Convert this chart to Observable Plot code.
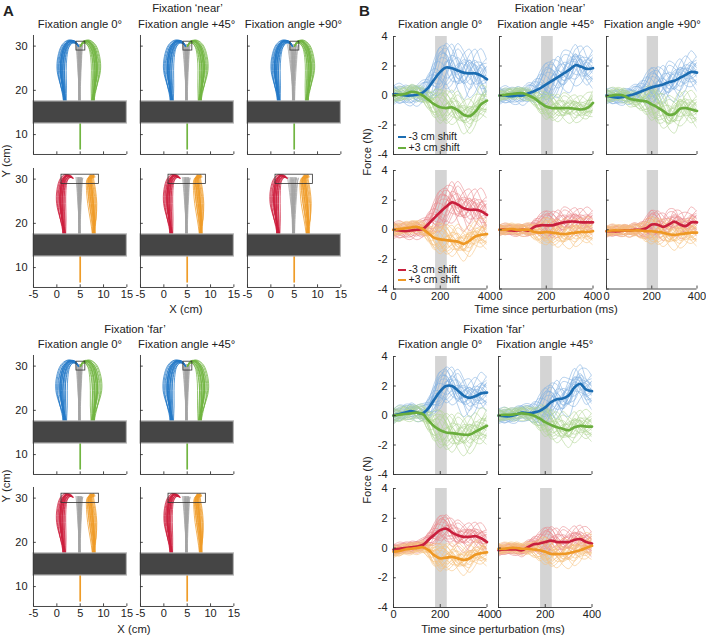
<!DOCTYPE html>
<html><head><meta charset="utf-8">
<script src="https://cdn.jsdelivr.net/npm/d3@7"></script>
<script src="https://cdn.jsdelivr.net/npm/@observablehq/plot@0.6"></script>
<style>
body{margin:0;background:#fff;}
#fig{position:relative;width:706px;height:639px;font-family:"Liberation Sans",Arial,Helvetica,sans-serif;color:#222;overflow:hidden;background:#fff}
.t{position:absolute;font-size:11.3px;white-space:nowrap;transform:translate(-50%,-50%);line-height:1}
.r{transform:translate(-50%,-50%) rotate(-90deg)}
.L{position:absolute;font-size:15px;font-weight:bold;line-height:1}
.p{position:absolute}
.leg{position:absolute;font-size:10.5px;line-height:1;white-space:nowrap}
.leg span.ln{display:inline-block;width:8px;height:2px;vertical-align:middle;margin-right:3px}
</style></head>
<body><div id="fig"></div>
<script>
// ---------------- DATA ----------------
const timeMs = [0,25,50,75,100,125,150,175,200,225,250,275,300,325,350,375,400];
const forceTicks = [-4,-2,0,2,4];
const timeTicks = [0,200,400];
const xCmTicks = [-5,0,5,10,15];
const yCmTicks = [10,20,30];
const perturbBand = [180,230];
const occluder = [-5,15,12.5,17.5];
const startPos = [5,6.5];
const targetSmall = [4.2,6.1,29,31];
const targetWide = [1,9,28.9,31];

// mean force traces (N), sampled at timeMs
const nearMinus0  = [0.1,0.05,0.0,0.0,0.05,0.2,0.55,1.1,1.6,1.9,1.85,1.7,1.55,1.5,1.5,1.35,1.1];
const nearPlus0   = [0.0,0.05,0.1,0.25,0.2,0.0,-0.3,-0.6,-0.8,-0.85,-0.8,-1.0,-1.3,-1.4,-1.1,-0.6,-0.35];
const nearMinus45 = [0.0,0.0,-0.05,0.0,0.0,0.15,0.3,0.5,0.75,1.0,1.25,1.5,1.75,2.05,1.95,1.8,1.85];
const nearPlus45  = [0.0,0.05,0.1,0.15,0.15,0.0,-0.2,-0.5,-0.75,-0.85,-0.85,-0.85,-0.85,-0.9,-0.95,-0.85,-0.5];
const nearMinus90 = [0.0,-0.1,-0.15,-0.1,0.0,0.1,0.25,0.4,0.55,0.65,0.75,0.9,1.0,1.2,1.4,1.6,1.55];
const nearPlus90  = [-0.05,0.0,0.05,0.0,-0.2,-0.3,-0.35,-0.4,-0.6,-0.8,-1.05,-1.3,-1.25,-0.9,-0.85,-0.95,-1.05];
const nearMinusR0  = [0.0,-0.05,-0.1,-0.05,0.0,0.05,0.4,0.8,1.2,1.55,1.85,1.7,1.45,1.35,1.35,1.25,1.0];
const nearPlusR0   = [0.0,0.05,0.1,0.15,0.2,0.05,-0.25,-0.55,-0.65,-0.7,-0.75,-0.8,-0.95,-0.75,-0.45,-0.35,-0.3];
const nearMinusR45 = [0.0,0.0,-0.05,-0.05,0.0,-0.05,0.2,0.3,0.3,0.3,0.4,0.5,0.55,0.55,0.5,0.5,0.5];
const nearPlusR45  = [0.0,0.0,0.05,0.0,0.0,0.0,-0.15,-0.2,-0.15,-0.2,-0.25,-0.3,-0.25,-0.2,-0.15,-0.15,-0.1];
const nearMinusR90 = [-0.1,-0.1,-0.1,-0.05,-0.05,0.0,0.0,0.1,0.35,0.35,0.2,0.35,0.55,0.35,0.25,0.5,0.5];
const nearPlusR90  = [-0.1,-0.05,-0.05,-0.05,-0.05,-0.05,-0.05,-0.1,-0.1,-0.15,-0.2,-0.3,-0.35,-0.3,-0.25,-0.2,-0.2];
const farMinus0  = [0.0,0.1,0.2,0.3,0.2,0.15,0.5,1.1,1.65,2.0,2.0,1.7,1.35,1.2,1.3,1.5,1.55];
const farPlus0   = [0.0,0.05,0.1,0.15,0.2,0.1,-0.35,-0.75,-1.0,-1.15,-1.2,-1.25,-1.3,-1.3,-1.1,-0.9,-0.7];
const farMinus45 = [0.0,-0.05,-0.05,0.05,0.2,0.15,0.2,0.3,0.55,0.9,1.1,1.15,1.35,1.9,2.15,1.75,1.65];
const farPlus45  = [0.0,0.05,0.05,0.1,0.15,0.1,0.0,-0.2,-0.45,-0.65,-0.8,-0.9,-1.0,-0.8,-0.7,-0.75,-0.75];
const farMinusR0  = [-0.1,-0.05,0.0,0.05,0.1,0.2,0.55,0.9,1.2,1.3,1.05,0.85,0.75,0.75,0.8,0.65,0.4];
const farPlusR0   = [-0.25,-0.2,-0.1,-0.05,0.0,0.05,-0.15,-0.5,-0.7,-0.65,-0.6,-0.7,-0.8,-0.7,-0.45,-0.35,-0.3];
const farMinusR45 = [-0.15,-0.1,-0.1,-0.1,-0.15,0.05,0.25,0.3,0.4,0.5,0.4,0.4,0.4,0.55,0.6,0.4,0.3];
const farPlusR45  = [-0.05,-0.05,0.0,0.0,-0.05,-0.05,-0.1,-0.15,-0.25,-0.4,-0.4,-0.4,-0.35,-0.25,-0.15,0.0,0.15];

// single-trial deviations from the mean (read shapes), and their spread over time
const trialDeviations = [
 [0.3,0.5,0.2,-0.3,-0.5,-0.1,0.4,0.9,1.0,0.4,-0.2,-0.5,0.1,0.7,0.9,0.5,0.2],
 [-0.4,-0.6,-0.3,0.2,0.4,0.3,-0.2,-0.7,-0.9,-0.4,0.3,0.8,0.6,0.0,-0.5,-0.7,-0.4],
 [0.6,0.2,-0.4,-0.5,0.0,0.5,0.6,0.2,-0.3,-0.8,-0.6,0.1,0.7,0.9,0.3,-0.3,-0.6],
 [-0.2,0.3,0.6,0.4,-0.1,-0.5,-0.6,-0.1,0.5,0.9,0.7,0.2,-0.4,-0.9,-0.7,0.0,0.5],
 [0.1,-0.3,-0.5,-0.2,0.3,0.6,0.3,-0.3,-0.6,-0.2,0.5,1.0,0.8,0.3,0.0,0.4,0.8],
 [-0.6,-0.3,0.1,0.5,0.6,0.2,-0.3,-0.5,0.0,0.6,0.9,0.4,-0.3,-0.6,-0.2,0.4,0.6],
 [0.4,0.6,0.5,0.0,-0.4,-0.6,-0.2,0.4,0.7,0.5,-0.1,-0.7,-1.0,-0.6,0.0,0.3,0.0],
 [-0.1,-0.4,-0.2,0.3,0.5,0.1,-0.5,-0.8,-0.4,0.2,0.3,-0.1,-0.4,0.1,0.7,1.0,0.7],
 [0.2,0.0,0.3,0.6,0.3,-0.2,0.0,0.6,1.0,0.8,0.2,-0.3,-0.1,0.4,0.3,-0.2,-0.5],
 [-0.3,0.1,0.4,0.1,-0.4,-0.4,0.1,0.3,-0.2,-0.6,-0.9,-0.5,0.2,0.5,0.1,-0.5,-0.9]
];
const spreadEnvelope = [0.7,0.7,0.7,0.7,0.7,0.75,0.9,1.1,1.2,1.3,1.3,1.3,1.3,1.3,1.3,1.3,1.3];
const spreadNearMinus = [1.4,1.2,1.1], spreadNearPlus = [1.0,0.8,1.0];
const spreadNearMinusR = [1.2,0.8,0.8], spreadNearPlusR = [0.9,0.8,0.8];
const spreadFarMinus = [1.1,1.1], spreadFarPlus = [1.1,0.9];
const spreadFarMinusR = [0.8,0.8], spreadFarPlusR = [0.8,0.8];

// hand paths (cm): template [x, y, wBase, wMid, wTop] and per-trial offsets [dxBase, dxMid, dyTop]
const pathMinusNear = [[1.7,15,1,0,0],[1.7,17.5,1,0,0],[1.4,21,1,0.6,0],[1.1,24.5,1,1,0],[1.3,27.5,0.8,1,0.3],[2.0,30,0.4,0.8,0.8],[3.0,31,0,0.5,1],[4.0,30.8,0,0.2,0.8],[4.6,30.0,0,0,0.3]];
const pathPlusNear  = [[7.7,15,1,0,0],[7.7,17.5,1,0,0],[8.0,21,1,0.6,0],[8.3,24.5,1,1,0],[8.1,27.5,0.8,1,0.3],[7.4,30,0.4,0.8,0.8],[6.4,31,0,0.5,1],[5.6,30.8,0,0.2,0.8],[5.1,30.0,0,0,0.3]];
const pathMinusShift = [[1.6,15,1,0,0],[1.6,17.5,1,0,0],[1.3,21,1,0.6,0],[1.0,24.5,1,1,0],[1.1,27.5,0.8,1,0.3],[1.6,29.8,0.5,0.8,0.8],[2.4,30.7,0.3,0.6,1],[3.2,30.4,0.2,0.5,0.6]];
const pathPlusShift  = [[7.9,15,1,0,0],[7.9,17.5,1,0,0],[7.8,21,1,0.6,0],[7.5,24.5,1,1,0],[7.2,27.5,0.8,1,0.3],[7.0,29.8,0.5,0.8,0.8],[7.2,30.7,0.3,0.6,1],[7.6,30.3,0.2,0.5,0.6]];
const pathNoShift = [[4.85,15,0.6,0,0],[4.85,17.5,0.6,0,0],[4.85,22,0.5,0.25,0],[4.9,26,0.4,0.55,0],[4.95,29.5,0.3,0.85,0.2],[5.0,30.3,0.3,1,0.3]];
const trialOffsets = [
 [-0.25,-0.5,0.2],[0.2,0.35,-0.2],[0.0,-0.9,0.3],[-0.2,0.1,0.05],[0.3,0.6,-0.3],[-0.1,-0.25,0.15],
 [0.1,0.25,-0.1],[0.25,-0.6,0.25],[-0.3,0.45,-0.2],[0.0,-0.1,0.1],[0.15,-1.2,0.35],[-0.15,0.7,-0.35],
 [0.05,-0.35,0.2],[-0.05,0.2,-0.1],[0.2,-0.75,0.1],[-0.25,0.05,0.3],[0.12,-0.45,-0.05],[-0.18,0.3,0.25]
];
const trajSpreadNear = [1.0,1.1,1.0], trajSpreadNearR = [1.0,1.0,1.1];
const trajSpreadFar = [1.25,1.2], trajSpreadFarR = [1.0,0.9];
const graySpreadNear = [0.8,0.9,1.3], graySpreadFar = [0.8,0.9];

const colTitles = ["Fixation angle 0°","Fixation angle +45°","Fixation angle +90°"];
const legendLabels = ["-3 cm shift","+3 cm shift"];

// ---------------- STYLE ----------------
const FONT = '"Liberation Sans", Arial, Helvetica, sans-serif';
const C = {
  blue:"#1c6db2", blueL:"#86b3e2", green:"#6aae3d", greenL:"#b2d694",
  red:"#c91f3d", redL:"#ea8a90", orange:"#ee9824", orangeL:"#f6c37f",
  tBlue:"#2479c7", tGreen:"#71b541", tRed:"#cc1f3d", tOrange:"#ef9c28", tGray:"#a4a4a4"
};
const ML=30, MR=8, MT=4, MB=22;
const fig = document.getElementById("fig");

function place(svg, left, top){
  const d = document.createElement("div"); d.className="p";
  d.style.left=(left-ML)+"px"; d.style.top=(top-MT)+"px";
  d.appendChild(svg); fig.appendChild(d);
}
function text(str, x, y, cls, extra){
  const d=document.createElement("div"); d.className=cls||"t";
  d.textContent=str; d.style.left=x+"px"; d.style.top=y+"px";
  if(extra) Object.assign(d.style, extra);
  fig.appendChild(d);
}
const axisStyle = {stroke:"#333", strokeWidth:0.9};

// ---------------- FORCE PANELS ----------------
function forcePanel(cfg){
  const thin=[[],[]];
  [[cfg.m1,cfg.s1],[cfg.m2,cfg.s2]].forEach(([m,s],si)=>{
    trialDeviations.forEach((_,k)=>{
      const dev = trialDeviations[(k+cfg.rot+si*5)%trialDeviations.length];
      [false,true].forEach(rev=>{
        timeMs.forEach((t,i)=>{
          const dv = rev ? dev[timeMs.length-1-i]*0.8 : dev[i];
          thin[si].push({t, f:m[i]+s*spreadEnvelope[i]*dv, id:k+"-"+rev});
        });
      });
    });
  });
  const mean = m => timeMs.map((t,i)=>({t,f:m[i]}));
  const marks = [
    Plot.rect([perturbBand],{x1:d=>d[0],x2:d=>d[1],y1:-4,y2:4,fill:"#d4d4d4"}),
    Plot.line(thin[0],{x:"t",y:"f",z:"id",stroke:cfg.l1,strokeWidth:0.7,strokeOpacity:0.85,curve:"catmull-rom",clip:true}),
    Plot.line(thin[1],{x:"t",y:"f",z:"id",stroke:cfg.l2,strokeWidth:0.7,strokeOpacity:0.85,curve:"catmull-rom",clip:true}),
    Plot.line(mean(cfg.m1),{x:"t",y:"f",stroke:cfg.c1,strokeWidth:2.7,curve:"catmull-rom"}),
    Plot.line(mean(cfg.m2),{x:"t",y:"f",stroke:cfg.c2,strokeWidth:2.7,curve:"catmull-rom"}),
    Plot.ruleX([0],{y1:-4,y2:4,...axisStyle}),
    Plot.ruleY([-4],{x1:0,x2:400,...axisStyle}),
    Plot.ruleY(forceTicks,{x1:0,x2:12,...axisStyle}),
    Plot.ruleX(timeTicks,{y1:-4,y2:-3.8,...axisStyle})
  ];
  if(cfg.yl) marks.push(Plot.axisY({ticks:forceTicks,tickSize:0,tickPadding:6,label:null,tickFormat:d=>String(d)}));
  if(cfg.xl) marks.push(Plot.axisX({ticks:timeTicks,tickSize:0,tickPadding:3,label:null,tickFormat:d=>String(d)}));
  const svg = Plot.plot({
    width:ML+cfg.w+MR, height:MT+cfg.h+MB, marginLeft:ML, marginRight:MR, marginTop:MT, marginBottom:MB,
    x:{domain:[0,400],axis:null}, y:{domain:[-4,4],axis:null},
    style:{background:"transparent",fontFamily:FONT,fontSize:"11px",color:"#222",overflow:"visible"},
    marks
  });
  place(svg, cfg.left, cfg.top);
}

// ---------------- TRAJECTORY PANELS ----------------
function bundle(tpl, spread, sign, rot){
  const out=[];
  trialOffsets.forEach((_,k)=>{
    const o = trialOffsets[(k+rot)%trialOffsets.length];
    tpl.forEach(p=>out.push({x:p[0]+sign*spread*(o[0]*p[2]+o[1]*p[3]), y:p[1]+o[2]*p[4], id:k}));
  });
  return out;
}
function trajPanel(cfg){
  const lineOpt = (col)=>({x:"x",y:"y",z:"id",stroke:col,strokeWidth:0.8,strokeOpacity:0.95,curve:"catmull-rom"});
  const marks = [
    Plot.line(bundle(pathNoShift,cfg.gs,1,cfg.rot+3),lineOpt(C.tGray)),
    Plot.line(bundle(cfg.p1,cfg.sp,1,cfg.rot),lineOpt(cfg.c1)),
    Plot.line(bundle(cfg.p2,cfg.sp,-1,cfg.rot+7),lineOpt(cfg.c2)),
    Plot.ruleX([startPos],{x:d=>d[0],y1:d=>d[1],y2:occluder[2],stroke:cfg.c2,strokeWidth:1.7}),
    Plot.rect([occluder],{x1:d=>d[0],x2:d=>d[1],y1:d=>d[2],y2:d=>d[3],fill:"#454545",stroke:"#b4b4b4",strokeWidth:1.2}),
    Plot.rect([cfg.box],{x1:d=>d[0],x2:d=>d[1],y1:d=>d[2],y2:d=>d[3],fill:"none",stroke:"#333",strokeWidth:0.8}),
    Plot.ruleX([-5],{y1:5.5,y2:32.4,...axisStyle}),
    Plot.ruleY([5.5],{x1:-5,x2:15,...axisStyle}),
    Plot.ruleY(yCmTicks,{x1:-5,x2:-4.4,...axisStyle}),
    Plot.ruleX(xCmTicks,{y1:5.5,y2:6.1,...axisStyle})
  ];
  if(cfg.yl) marks.push(Plot.axisY({ticks:yCmTicks,tickSize:0,tickPadding:6,label:null,tickFormat:d=>String(d)}));
  if(cfg.xl) marks.push(Plot.axisX({ticks:xCmTicks,tickSize:0,tickPadding:3,label:null,tickFormat:d=>String(d)}));
  const svg = Plot.plot({
    width:ML+cfg.w+MR, height:MT+cfg.h+MB, marginLeft:ML, marginRight:MR, marginTop:MT, marginBottom:MB,
    x:{domain:[-5,15],axis:null}, y:{domain:[5.5,32.4],axis:null},
    style:{background:"transparent",fontFamily:FONT,fontSize:"11px",color:"#222",overflow:"visible"},
    marks
  });
  place(svg, cfg.left, cfg.top);
}

// ---------------- LAYOUT ----------------
const aColsNear=[33.3,140,246.7], aColsFar=[33.3,140], aW=93.4, aH=119;
const aTopsNear=[34.5,167.5], aTopsFar=[355,487];
const bColsNear=[393.3,499,606], bColsFar=[393.3,498], bWs=[93.5,93.5,90.5];
const bTopsNear=[36,169.5], bTopsFar=[356,488], bHs=[118,118.5];

aColsNear.forEach((x,c)=>{
  trajPanel({left:x,top:aTopsNear[0],w:aW,h:aH,p1:pathMinusNear,p2:pathPlusNear,c1:C.tBlue,c2:C.tGreen,sp:trajSpreadNear[c],gs:graySpreadNear[c],rot:c*4,box:targetSmall,yl:c===0,xl:false});
  trajPanel({left:x,top:aTopsNear[1],w:aW,h:aH,p1:pathMinusShift,p2:pathPlusShift,c1:C.tRed,c2:C.tOrange,sp:trajSpreadNearR[c],gs:graySpreadNear[c],rot:c*4+2,box:targetWide,yl:c===0,xl:true});
});
aColsFar.forEach((x,c)=>{
  trajPanel({left:x,top:aTopsFar[0],w:aW,h:aH,p1:pathMinusNear,p2:pathPlusNear,c1:C.tBlue,c2:C.tGreen,sp:trajSpreadFar[c],gs:graySpreadFar[c],rot:c*5+1,box:targetSmall,yl:c===0,xl:false});
  trajPanel({left:x,top:aTopsFar[1],w:aW,h:aH,p1:pathMinusShift,p2:pathPlusShift,c1:C.tRed,c2:C.tOrange,sp:trajSpreadFarR[c],gs:graySpreadFar[c],rot:c*5+3,box:targetWide,yl:c===0,xl:true});
});

const nearM=[nearMinus0,nearMinus45,nearMinus90], nearP=[nearPlus0,nearPlus45,nearPlus90];
const nearMR=[nearMinusR0,nearMinusR45,nearMinusR90], nearPR=[nearPlusR0,nearPlusR45,nearPlusR90];
const farM=[farMinus0,farMinus45], farP=[farPlus0,farPlus45];
const farMR=[farMinusR0,farMinusR45], farPR=[farPlusR0,farPlusR45];
bColsNear.forEach((x,c)=>{
  forcePanel({left:x,top:bTopsNear[0],w:bWs[c],h:bHs[0],m1:nearM[c],m2:nearP[c],s1:spreadNearMinus[c],s2:spreadNearPlus[c],c1:C.blue,c2:C.green,l1:C.blueL,l2:C.greenL,rot:c*3,yl:c===0,xl:false});
  forcePanel({left:x,top:bTopsNear[1],w:bWs[c],h:bHs[1],m1:nearMR[c],m2:nearPR[c],s1:spreadNearMinusR[c],s2:spreadNearPlusR[c],c1:C.red,c2:C.orange,l1:C.redL,l2:C.orangeL,rot:c*3+1,yl:c===0,xl:true});
});
bColsFar.forEach((x,c)=>{
  forcePanel({left:x,top:bTopsFar[0],w:bWs[c],h:bHs[0],m1:farM[c],m2:farP[c],s1:spreadFarMinus[c],s2:spreadFarPlus[c],c1:C.blue,c2:C.green,l1:C.blueL,l2:C.greenL,rot:c*3+2,yl:c===0,xl:false});
  forcePanel({left:x,top:bTopsFar[1],w:bWs[c],h:bHs[1]+0.5,m1:farMR[c],m2:farPR[c],s1:spreadFarMinusR[c],s2:spreadFarPlusR[c],c1:C.red,c2:C.orange,l1:C.redL,l2:C.orangeL,rot:c*3+4,yl:c===0,xl:true});
});

// ---------------- TEXT ----------------
text("A",3,3,"L"); text("B",359,3,"L");
text("Fixation ‘near’",187.5,8.5); text("Fixation ‘near’",550,8.5);
text("Fixation ‘far’",135,330); text("Fixation ‘far’",494,330);
aColsNear.forEach((x,c)=>text(colTitles[c],x+aW/2,24.5));
bColsNear.forEach((x,c)=>text(colTitles[c],x+(c===2?92.5:bWs[c])/2,24.5));
aColsFar.forEach((x,c)=>text(colTitles[c],x+aW/2,345));
bColsFar.forEach((x,c)=>text(colTitles[c],x+bWs[c]/2,345));
text("X (cm)",186,310); text("X (cm)",134,630);
text("Time since perturbation (ms)",546,310); text("Time since perturbation (ms)",493,630);
text("Y (cm)",7,161,"t r"); text("Y (cm)",7,486,"t r");
text("Force (N)",368,152,"t r"); text("Force (N)",368,480,"t r");

function legend(x,y,cols){
  legendLabels.forEach((lab,i)=>{
    const d=document.createElement("div"); d.className="leg";
    d.style.left=x+"px"; d.style.top=(y+i*10.5-5)+"px";
    const ln=document.createElement("span"); ln.className="ln"; ln.style.background=cols[i];
    d.appendChild(ln); d.appendChild(document.createTextNode(lab)); fig.appendChild(d);
  });
}
legend(397.5,136,[C.blue,C.green]);
legend(397.5,268.5,[C.red,C.orange]);
</script>
</body></html>
